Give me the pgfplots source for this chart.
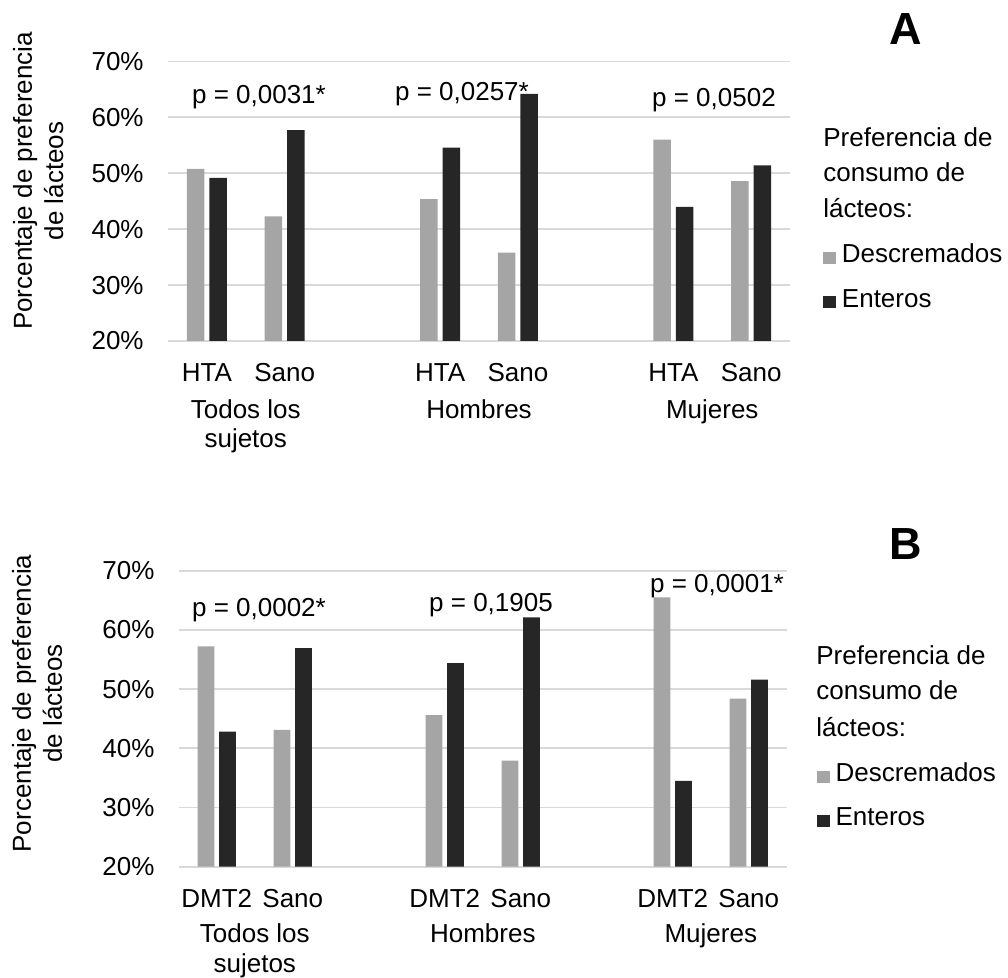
\documentclass[border=0pt]{standalone}
\usepackage{pgfplots}
\pgfplotsset{compat=1.18}
\usepackage{fontspec}
\setmainfont{Liberation Sans}
\definecolor{gbar}{RGB}{165,165,165}
\definecolor{kbar}{RGB}{38,38,38}
\definecolor{gridc}{RGB}{217,217,217}
\newcommand\fsz{\fontsize{13pt}{15pt}\selectfont}
\pgfplotsset{
 myaxis/.style={
  scale only axis, anchor=south west, clip mode=individual,
  ybar, ymin=20, ymax=70, ytick={20,30,40,50,60,70},
  xmin=-0.5, xmax=7.5, xtick={0,1,3,4,6,7},
  ymajorgrids, grid style={draw=gridc, line width=0.9pt},
  axis line style={draw=none}, tick style={draw=none},
  /pgf/number format/assume math mode=true,
  yticklabel={\pgfmathprintnumber{\tick}\%},
  yticklabel style={anchor=east, inner sep=0pt, xshift=-12pt},
  xticklabel style={anchor=base, inner sep=0pt, yshift=-16pt},
  tick label style={font=\fsz},
  legend style={draw=none, fill=none, inner sep=0pt, outer sep=0pt, anchor=north west,
    row sep=11.2pt, column sep=3pt, nodes={inner sep=0pt, font=\fsz}},
  legend cell align=left,
  legend image code/.code={\fill[##1] (0pt,-4.2pt) rectangle (6.5pt,1.8pt);},
 }
}
\begin{document}
\fsz
\begin{tikzpicture}
\useasboundingbox (0pt,0pt) rectangle (504pt,489pt);
% ---------------- A ----------------
\begin{axis}[myaxis, at={(84pt,318.5pt)}, width=311pt, height=139.75pt,
  xticklabels={HTA,Sano,HTA,Sano,HTA,Sano},
  legend style={at={(1.053,0.347)}}]
\addplot[fill=gbar, draw=none, bar width=8.75pt, bar shift=-5.6pt] coordinates
  {(0,50.8) (1,42.3) (3,45.4) (4,35.8) (6,56.0) (7,48.6)};
\addplot[fill=kbar, draw=none, bar width=8.75pt, bar shift=5.6pt] coordinates
  {(0,49.2) (1,57.7) (3,54.6) (4,64.2) (6,44.0) (7,51.4)};
\legend{Descremados,Enteros}
\node[anchor=base, font=\fsz] at (axis cs:0.670,62.5) {p = 0,0031*};
\node[anchor=base, font=\fsz] at (axis cs:3.281,63.1) {p = 0,0257*};
\node[anchor=base, font=\fsz] at (axis cs:6.522,61.9) {p = 0,0502};
\node[anchor=base, font=\fsz, yshift=-39pt] at (axis cs:0.5,20) {Todos los};
\node[anchor=base, font=\fsz, yshift=-53.5pt] at (axis cs:0.5,20) {sujetos};
\node[anchor=base, font=\fsz, yshift=-39pt] at (axis cs:3.5,20) {Hombres};
\node[anchor=base, font=\fsz, yshift=-39pt] at (axis cs:6.5,20) {Mujeres};
\end{axis}
\node[rotate=90, anchor=base, inner sep=0pt] at (16pt,398.5pt) {Porcentaje de preferencia};
\node[rotate=90, anchor=base, inner sep=0pt] at (31.5pt,398.5pt) {de lácteos};
\node[anchor=base west, inner sep=0pt] at (411.5pt,415.65pt) {Preferencia de};
\node[anchor=base west, inner sep=0pt] at (411.5pt,398.15pt) {consumo de};
\node[anchor=base west, inner sep=0pt] at (411.5pt,380pt) {lácteos:};
\node[anchor=base, inner sep=0pt, font=\fontsize{22.5pt}{25pt}\selectfont\bfseries] at (453pt,466.5pt) {A};
% ---------------- B ----------------
\begin{axis}[myaxis, at={(89.4pt,55.65pt)}, width=304pt, height=148pt,
  xticklabels={DMT2,Sano,DMT2,Sano,DMT2,Sano},
  legend style={at={(1.049,0.351)}}]
\addplot[fill=gbar, draw=none, bar width=8.4pt, bar shift=-5.4pt] coordinates
  {(0,57.2) (1,43.1) (3,45.6) (4,37.9) (6,65.5) (7,48.4)};
\addplot[fill=kbar, draw=none, bar width=8.4pt, bar shift=5.4pt] coordinates
  {(0,42.8) (1,56.9) (3,54.4) (4,62.1) (6,34.5) (7,51.6)};
\legend{Descremados,Enteros}
\node[anchor=base, font=\fsz] at (axis cs:0.555,62.3) {p = 0,0002*};
\node[anchor=base, font=\fsz] at (axis cs:3.608,63.1) {p = 0,1905};
\node[anchor=base, font=\fsz] at (axis cs:6.582,66.3) {p = 0,0001*};
\node[anchor=base, font=\fsz, yshift=-38pt] at (axis cs:0.5,20) {Todos los};
\node[anchor=base, font=\fsz, yshift=-53pt] at (axis cs:0.5,20) {sujetos};
\node[anchor=base, font=\fsz, yshift=-38pt] at (axis cs:3.5,20) {Hombres};
\node[anchor=base, font=\fsz, yshift=-38pt] at (axis cs:6.5,20) {Mujeres};
\end{axis}
\node[rotate=90, anchor=base, inner sep=0pt] at (15.5pt,137.25pt) {Porcentaje de preferencia};
\node[rotate=90, anchor=base, inner sep=0pt] at (31pt,137.25pt) {de lácteos};
\node[anchor=base west, inner sep=0pt] at (408pt,156.5pt) {Preferencia de};
\node[anchor=base west, inner sep=0pt] at (408pt,139pt) {consumo de};
\node[anchor=base west, inner sep=0pt] at (408pt,120.5pt) {lácteos:};
\node[anchor=base, inner sep=0pt, font=\fontsize{22.5pt}{25pt}\selectfont\bfseries] at (453pt,209pt) {B};
\end{tikzpicture}
\end{document}
